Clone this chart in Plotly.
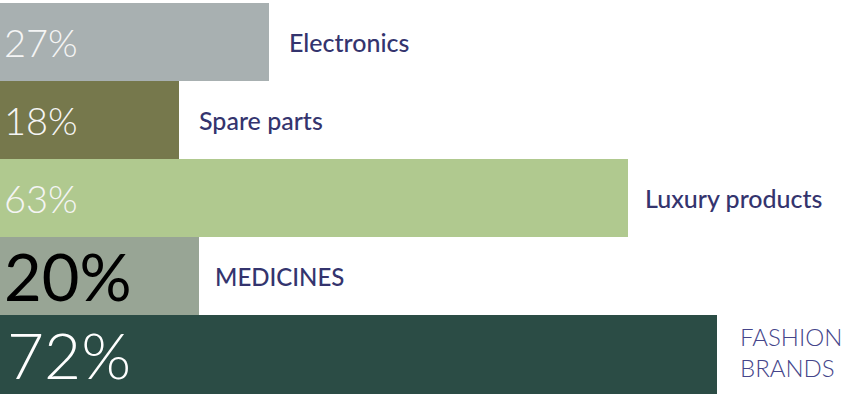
import plotly.graph_objects as go

# Share of shipments by product category
categories = ["Electronics", "Spare parts", "Luxury products", "MEDICINES", "FASHION<br>BRANDS"]
values = [27, 18, 63, 20, 72]
value_labels = ["27%", "18%", "63%", "20%", "72%"]

bar_colors = ["#a8b0b1", "#76784c", "#b0c98f", "#98a595", "#2b4c45"]
pct_colors = ["#f5f5f5", "#f5f5f5", "#f5f5f5", "#000000", "#ffffff"]
pct_sizes = [38, 38, 38, 65, 64]
pct_weights = [300, 300, 300, 400, 300]
pct_shift = [2, 2, 2, 2, 5]
name_colors = ["#34346e", "#34346e", "#34346e", "#34346e", "#45458a"]
name_sizes = [25, 25, 25, 24, 24]
name_weights = [500, 500, 500, 500, 300]
name_shift = [18, 18, 15, 14, 21]
name_yshift = [0, 0, 0, 0, 3]

fig = go.Figure(
    go.Bar(
        x=values,
        y=categories,
        orientation="h",
        marker=dict(color=bar_colors, line=dict(width=0)),
        hoverinfo="skip",
    )
)

annotations = []
for i, cat in enumerate(categories):
    annotations.append(dict(
        x=0, y=cat, text=value_labels[i], xanchor="left", yanchor="middle",
        xshift=pct_shift[i], showarrow=False,
        font=dict(family="Lato", size=pct_sizes[i], color=pct_colors[i],
                  weight=pct_weights[i]),
    ))
    annotations.append(dict(
        x=values[i], y=cat, text=cat, xanchor="left", yanchor="middle",
        xshift=name_shift[i], yshift=name_yshift[i], showarrow=False,
        align="left",
        font=dict(family="Lato", size=name_sizes[i], color=name_colors[i],
                  weight=name_weights[i]),
    ))

fig.update_layout(
    width=841,
    height=395,
    margin=dict(l=0, r=0, t=3, b=0),
    paper_bgcolor="white",
    plot_bgcolor="white",
    bargap=0,
    showlegend=False,
    xaxis=dict(range=[0, 84.4], visible=False, fixedrange=True),
    yaxis=dict(autorange="reversed", visible=False, fixedrange=True),
    annotations=annotations,
)

fig.write_html("out.html", config={"displayModeBar": False})
